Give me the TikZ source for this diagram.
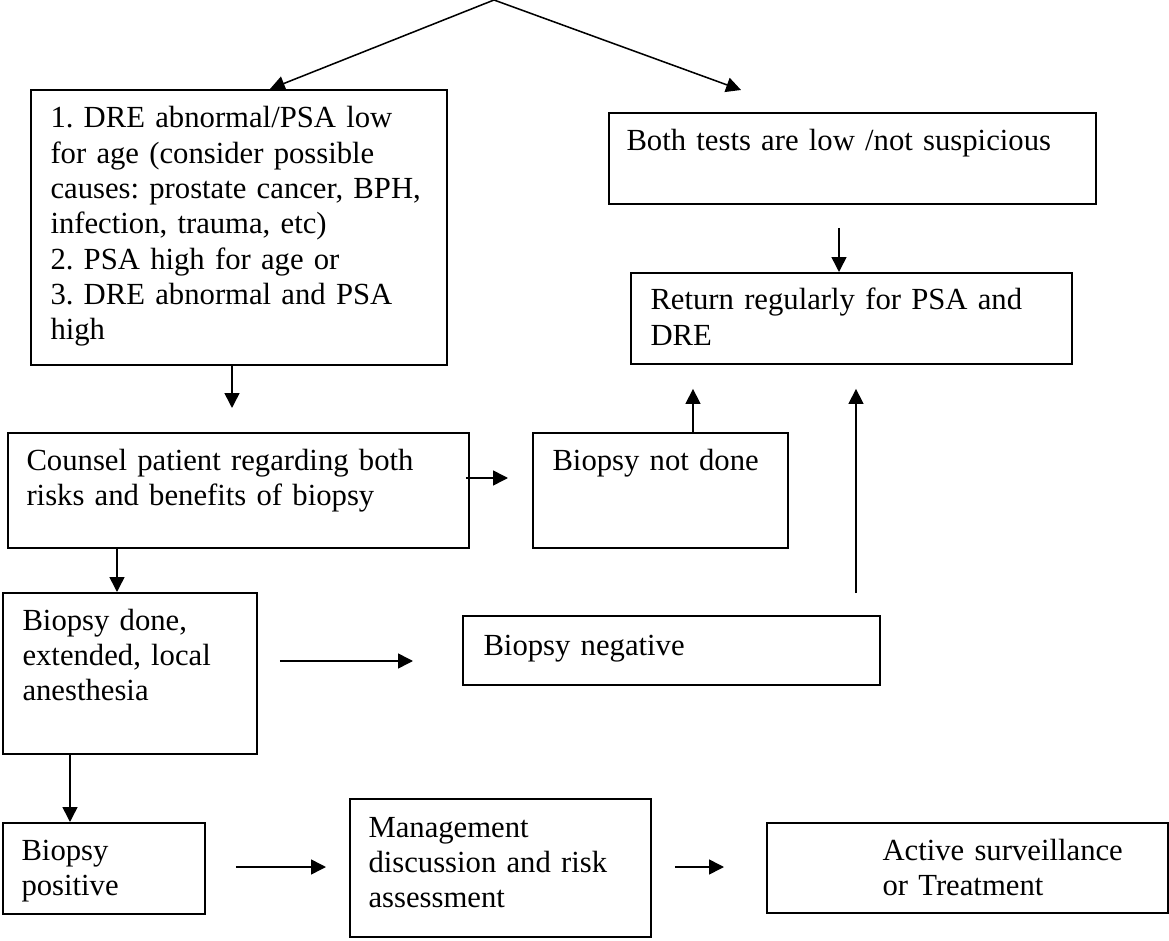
\documentclass[tikz,border=0pt]{standalone}
\usepackage{fontspec}
\setmainfont{Liberation Serif}
\usetikzlibrary{arrows.meta}
\frenchspacing
\newcommand{\px}{0.391pt}
\tikzset{
  flowbox/.style 2 args={draw, line width=0.75pt, anchor=north west, inner sep=0pt,
    minimum width=#1*\px, minimum height=#2*\px},
  flowtext/.style={anchor=base west, inner sep=0pt, align=left, text width=190pt,
    font=\fontsize{12}{13.8}\selectfont},
  flowarrow/.style={line width=0.6pt, -{Triangle[length=5.8pt, width=5.8pt]}}
}

\begin{document}
\begin{tikzpicture}[x=\px, y=-\px]
		\useasboundingbox (0,0) rectangle (1169,941);
		% boxes
		\node[flowbox={416}{275}] (dre) at (30,89) {};
		\node[flowbox={487}{91}] (tests) at (608,112) {};
		\node[flowbox={441}{91}] (return) at (630,272) {};
		\node[flowbox={461}{115}] (counsel) at (7,432) {};
		\node[flowbox={255}{115}] (notdone) at (532,432) {};
		\node[flowbox={254}{161}] (done) at (2,592) {};
		\node[flowbox={417}{69}] (negative) at (462,615) {};
		\node[flowbox={202}{91}] (positive) at (2,822) {};
		\node[flowbox={301}{138}] (mgmt) at (349,798) {};
		\node[flowbox={401}{90}] (active) at (766,822) {};
		% texts
		\node[flowtext] (dre-t) at ([shift={(20,39)}]dre.north west) {1. DRE abnormal/PSA low\\ for age (consider possible\\ causes: prostate cancer, BPH,\\ infection, trauma, etc)\\ 2. PSA high for age or\\ 3. DRE abnormal and PSA\\ high};
		\node[flowtext] (tests-t) at ([shift={(18,39)}]tests.north west) {Both tests are low /not suspicious};
		\node[flowtext] (return-t) at ([shift={(20,38)}]return.north west) {Return regularly for PSA and\\ DRE};
		\node[flowtext] (counsel-t) at ([shift={(19,38)}]counsel.north west) {Counsel patient regarding both\\ risks and benefits of biopsy};
		\node[flowtext] (notdone-t) at ([shift={(20,38)}]notdone.north west) {Biopsy not done};
		\node[flowtext] (done-t) at ([shift={(20,38)}]done.north west) {Biopsy done,\\ extended, local\\ anesthesia};
		\node[flowtext] (negative-t) at ([shift={(21,40)}]negative.north west) {Biopsy negative};
		\node[flowtext] (positive-t) at ([shift={(19,38)}]positive.north west) {Biopsy\\ positive};
		\node[flowtext] (mgmt-t) at ([shift={(19,39)}]mgmt.north west) {Management\\ discussion and risk\\ assessment};
		\node[flowtext] (active-t) at ([shift={(116,38)}]active.north west) {Active surveillance\\ or Treatment};
		% connectors
		\coordinate (top) at (494,0);
		\draw[flowarrow] (top) -- ([shift={(240,0)}]dre.north west);
		\draw[flowarrow] (top) -- ([shift={(133,-22)}]tests.north west);
		\draw[flowarrow] ([shift={(231,23)}]tests.south west) -- ([shift={(209,0)}]return.north west);
		\draw[flowarrow] ([shift={(202,0)}]dre.south west) -- ([shift={(225,-24)}]counsel.north west);
		\draw[flowarrow] ([shift={(-4,46)}]counsel.north east) -- ([shift={(-24,46)}]notdone.north west);
		\draw[flowarrow] ([shift={(110,0)}]counsel.south west) -- ([shift={(115,0)}]done.north west);
		\draw[flowarrow] ([shift={(161,0)}]notdone.north west) -- ([shift={(63,24)}]return.south west);
		\draw[flowarrow] ([shift={(394,-22)}]negative.north west) -- ([shift={(226,24)}]return.south west);
		\draw[flowarrow] ([shift={(22,69)}]done.north east) -- ([shift={(-49,46)}]negative.north west);
		\draw[flowarrow] ([shift={(68,0)}]done.south west) -- ([shift={(68,0)}]positive.north west);
		\draw[flowarrow] ([shift={(30,45)}]positive.north east) -- ([shift={(-23,69)}]mgmt.north west);
		\draw[flowarrow] ([shift={(23,69)}]mgmt.north east) -- ([shift={(-42,45)}]active.north west);
\end{tikzpicture}
\end{document}
